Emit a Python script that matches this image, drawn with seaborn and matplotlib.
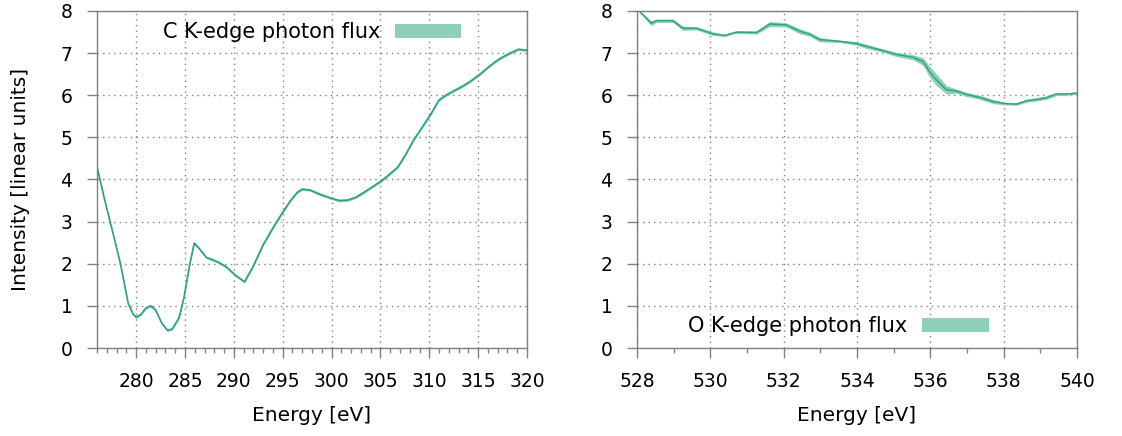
import numpy as np
import pandas as pd
import matplotlib
matplotlib.use("Agg")
import matplotlib.pyplot as plt
import seaborn as sns
from matplotlib.patches import Patch
from matplotlib.ticker import MultipleLocator

# C K-edge photon flux
c_energy = [276, 276.8, 277.3, 278.4, 279.2, 279.7, 280.0, 280.5, 281.0, 281.5, 282.0, 282.6,
            283.2, 283.7, 284.4, 284.9, 285.2, 285.5, 285.95, 286.5, 287.2, 288.3, 289.2, 290.2,
            291.1, 292.0, 293.0, 294.0, 294.8, 295.8, 296.5, 297.0, 297.8, 298.8, 299.9, 300.8,
            301.6, 302.5, 303.2, 304.0, 305.0, 305.8, 306.8, 307.6, 308.4, 309.3, 310.2, 311.0,
            311.9, 313.2, 314.2, 315.3, 316.1, 317.0, 318.0, 319.1, 320.0]
c_flux = [4.3, 3.5, 3.04, 2.0, 1.05, 0.8, 0.73, 0.8, 0.95, 1.0, 0.9, 0.6,
          0.42, 0.45, 0.72, 1.2, 1.6, 2.0, 2.49, 2.35, 2.15, 2.05, 1.93, 1.72,
          1.57, 1.95, 2.45, 2.85, 3.15, 3.5, 3.7, 3.77, 3.75, 3.65, 3.56, 3.5,
          3.51, 3.58, 3.68, 3.8, 3.95, 4.1, 4.3, 4.6, 4.94, 5.25, 5.57, 5.89,
          6.03, 6.19, 6.33, 6.52, 6.68, 6.84, 6.97, 7.09, 7.07]
c_err = 0.03

# O K-edge photon flux
o_energy = [528.0, 528.07, 528.39, 528.53, 528.98, 529.25, 529.62, 530.07, 530.39, 530.71, 531.26,
            531.62, 532.07, 532.44, 532.71, 532.98, 533.53, 533.98, 534.26, 534.71, 535.07,
            535.53, 535.8, 535.98, 536.16, 536.44, 536.71, 536.98, 537.35, 537.71, 538.07,
            538.35, 538.62, 538.89, 539.16, 539.44, 539.71, 540.0]
o_flux = [8.05, 7.99, 7.71, 7.77, 7.77, 7.59, 7.59, 7.46, 7.42, 7.5, 7.49,
          7.69, 7.67, 7.52, 7.45, 7.32, 7.28, 7.23, 7.16, 7.06, 6.97,
          6.9, 6.8, 6.56, 6.37, 6.13, 6.1, 6.02, 5.95, 5.85, 5.8,
          5.79, 5.87, 5.9, 5.94, 6.03, 6.03, 6.05]
o_err = [0.0, 0.02, 0.06, 0.04, 0.04, 0.05, 0.04, 0.04, 0.03, 0.03, 0.04,
         0.06, 0.05, 0.06, 0.05, 0.05, 0.03, 0.04, 0.05, 0.04, 0.05,
         0.06, 0.09, 0.13, 0.14, 0.1, 0.05, 0.05, 0.05, 0.05, 0.03,
         0.03, 0.04, 0.04, 0.04, 0.04, 0.03, 0.03]

line_color = "#2ba37e"
band_color = "#8ecfb9"
grey = "#808080"

sns.set_theme(style="white")
plt.rcParams["font.family"] = ["DejaVu Sans"]
plt.rcParams["font.size"] = 13.5
plt.rcParams["text.color"] = "black"
plt.rcParams["axes.labelcolor"] = "black"

fig = plt.figure(figsize=(11.22, 4.36), dpi=100)
ax1 = fig.add_axes([97 / 1122, 88 / 436, 430 / 1122, 337 / 436])
ax2 = fig.add_axes([637 / 1122, 88 / 436, 440 / 1122, 337 / 436])

c_df = pd.DataFrame({"energy": c_energy, "flux": c_flux})
o_df = pd.DataFrame({"energy": o_energy, "flux": o_flux, "err": o_err})

ax1.fill_between(c_df["energy"], c_df["flux"] - c_err, c_df["flux"] + c_err,
                 color=band_color, lw=0)
sns.lineplot(data=c_df, x="energy", y="flux", ax=ax1, color=line_color, lw=1.2)
ax2.fill_between(o_df["energy"], o_df["flux"] - o_df["err"], o_df["flux"] + o_df["err"],
                 color=band_color, lw=0)
sns.lineplot(data=o_df, x="energy", y="flux", ax=ax2, color=line_color, lw=1.0)

ax1.set_xlim(276, 320)
ax1.set_xticks(range(280, 321, 5))
ax1.xaxis.set_minor_locator(MultipleLocator(1))
ax2.set_xlim(528, 540)
ax2.set_xticks(range(528, 541, 2))
ax2.xaxis.set_minor_locator(MultipleLocator(1))

for ax in (ax1, ax2):
    ax.set_ylim(0, 8)
    ax.set_yticks(range(0, 9))
    ax.grid(True, which="major", ls=(0, (1, 3)), color=grey, lw=1)
    for sp in ax.spines.values():
        sp.set_color(grey)
        sp.set_linewidth(1)
    ax.tick_params(which="major", direction="out", length=7.2, width=1, color=grey,
                   labelsize=13.5, labelcolor="black", bottom=True, left=True)
    ax.tick_params(axis="x", which="major", pad=10)
    ax.tick_params(axis="y", which="major", pad=10.5)
    ax.tick_params(which="minor", direction="out", length=3.6, width=1, color=grey,
                   bottom=True)
    ax.set_xlabel("Energy [eV]", fontsize=14.5, labelpad=11, color="black")
    ax.set_ylabel("")

ax1.set_ylabel("Intensity [linear units]", fontsize=14.5, labelpad=22, color="black")

ax1.legend(handles=[Patch(color=band_color, lw=0)], labels=["C K-edge photon flux"],
           loc="center right", bbox_to_anchor=(0.847, 0.938), frameon=False,
           markerfirst=False, handlelength=3.2, handleheight=0.65, borderpad=0,
           borderaxespad=0, fontsize=15, handletextpad=0.7, labelcolor="black")
ax2.legend(handles=[Patch(color=band_color, lw=0)], labels=["O K-edge photon flux"],
           loc="center right", bbox_to_anchor=(0.8, 0.065), frameon=False,
           markerfirst=False, handlelength=3.2, handleheight=0.65, borderpad=0,
           borderaxespad=0, fontsize=15, handletextpad=0.7, labelcolor="black")

fig.savefig("out.png", dpi=100)
